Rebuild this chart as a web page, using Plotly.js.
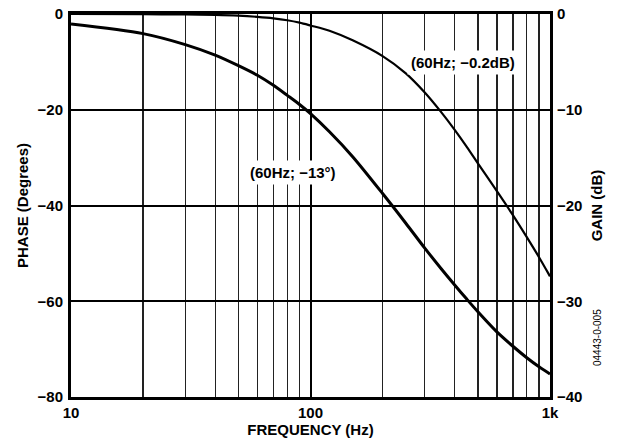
<!DOCTYPE html>
<html><head><meta charset="utf-8">
<script src="https://cdn.plot.ly/plotly-3.0.1.min.js"></script>
<style>html,body{margin:0;padding:0;background:#fff}#chart{width:621px;height:443px}</style>
</head><body><div id="chart"></div>
<script>
const freq = [10,20,30,40,50,60,70,80,90,100,120,150,200,250,300,350,400,450,500,600,700,800,900,1000];
const phase = [-2.1,-4.1,-6.4,-8.6,-10.8,-12.8,-14.9,-17.0,-18.9,-20.8,-24.6,-29.8,-37.5,-43.7,-48.9,-53.1,-56.6,-59.6,-62.2,-66.4,-69.4,-71.8,-73.7,-75.2];
const gain = [0,-0.02,-0.05,-0.1,-0.18,-0.3,-0.45,-0.65,-0.9,-1.2,-1.75,-2.75,-4.4,-6.2,-8.2,-10.2,-12.1,-13.9,-15.6,-18.5,-21.0,-23.3,-25.4,-27.4];
const xMajor = [10,100,1000];
const xMajorText = ['10','100','1k'];
const xMinor = [20,30,40,50,60,70,80,90,200,300,400,500,600,700,800,900];
const phaseTicks = [0,-20,-40,-60,-80];
const phaseText = ['0','\u221220','\u221240','\u221260','\u221280'];
const gainTicks = [0,-10,-20,-30,-40];
const gainText = ['0','\u221210','\u221220','\u221230','\u221240'];

const F = 'Liberation Sans, Arial, sans-serif';
const tickFont = {family: F, size: 15, color: '#000', weight: 'bold'};
const titleFont = {family: F, size: 15, color: '#000', weight: 'bold'};
const traces = [
  {x: freq, y: phase, yaxis: 'y', mode: 'lines', line: {color: '#000', width: 3, shape: 'spline', smoothing: 0.8}, hoverinfo: 'skip'},
  {x: freq, y: gain, yaxis: 'y2', mode: 'lines', line: {color: '#000', width: 2.2, shape: 'spline', smoothing: 0.8}, hoverinfo: 'skip'}
];
const layout = {
  width: 621, height: 443,
  margin: {l: 71, r: 71, t: 14, b: 46},
  paper_bgcolor: '#fff', plot_bgcolor: '#fff',
  showlegend: false,
  font: {family: F, color: '#000'},
  xaxis: {
    type: 'log', range: [1, 3],
    tickmode: 'array', tickvals: xMajor, ticktext: xMajorText,
    showgrid: true, gridcolor: '#000', gridwidth: 2,
    minor: {tickmode: 'array', tickvals: xMinor, showgrid: true, gridcolor: '#222', gridwidth: 1.3, ticks: ''},
    showline: true, linecolor: '#000', linewidth: 3, mirror: true,
    ticks: '', tickfont: tickFont, ticklabelstandoff: 0,
    title: {text: 'FREQUENCY (Hz)', font: titleFont, standoff: 2},
    zeroline: false
  },
  yaxis: {
    range: [-80, 0], tickmode: 'array', tickvals: phaseTicks, ticktext: phaseText,
    showgrid: true, gridcolor: '#000', gridwidth: 2,
    showline: true, linecolor: '#000', linewidth: 3, mirror: true,
    ticks: '', tickfont: tickFont, ticklabelstandoff: 2,
    title: {text: 'PHASE (Degrees)', font: titleFont, standoff: 6},
    zeroline: false
  },
  yaxis2: {
    range: [-40, 0], overlaying: 'y', side: 'right',
    tickmode: 'array', tickvals: gainTicks, ticktext: gainText,
    showgrid: false, zeroline: false, ticks: '', ticklabelstandoff: 6,
    tickfont: tickFont,
    title: {text: 'GAIN (dB)', font: titleFont, standoff: 10}
  },
  annotations: [
    {x: 2.637, y: -10.2, xref: 'x', yref: 'y', text: '(60Hz; \u22120.2dB)', showarrow: false,
     bgcolor: '#fff', font: {family: F, size: 15, color: '#000', weight: 'bold'}, borderpad: 3},
    {x: 1.927, y: -33.2, xref: 'x', yref: 'y', text: '(60Hz; \u221213\u00b0)', showarrow: false,
     bgcolor: '#fff', font: {family: F, size: 15, color: '#000', weight: 'bold'}, borderpad: 3},
    {x: (605 - 71) / (621 - 142), y: (443 - 46 - 368) / (443 - 60), xref: 'paper', yref: 'paper', text: '04443-0-005', showarrow: false, textangle: -90,
     font: {family: F, size: 10, color: '#000'}}
  ]
};
Plotly.newPlot('chart', traces, layout, {staticPlot: true, displayModeBar: false});
</script></body></html>
